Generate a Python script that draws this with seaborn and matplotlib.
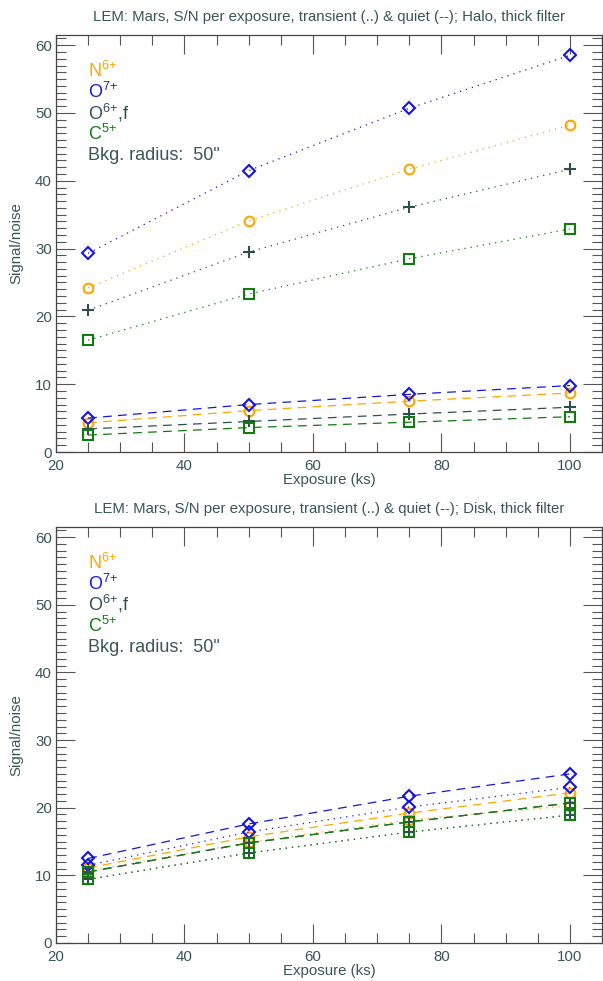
import numpy as np
import pandas as pd
import matplotlib
matplotlib.use("Agg")
import matplotlib.pyplot as plt
import matplotlib.transforms as mtrans
import seaborn as sns
from matplotlib.ticker import MultipleLocator

sns.set_style("ticks")
plt.rcParams['font.family'] = ['Liberation Sans', 'DejaVu Sans']
plt.rcParams['mathtext.fontset'] = 'custom'
plt.rcParams['mathtext.rm'] = 'Liberation Sans'
plt.rcParams['mathtext.it'] = 'Liberation Sans'

exposure = [25, 50, 75, 100]

# Halo panel
halo_O7_trans = [29.3, 41.5, 50.7, 58.5]
halo_N6_trans = [24.2, 34.1, 41.7, 48.2]
halo_O6_trans = [20.9, 29.5, 36.1, 41.7]
halo_C5_trans = [16.5, 23.3, 28.5, 32.9]
halo_O7_quiet = [5.0, 7.0, 8.5, 9.8]
halo_N6_quiet = [4.3, 6.1, 7.5, 8.7]
halo_O6_quiet = [3.4, 4.5, 5.6, 6.6]
halo_C5_quiet = [2.5, 3.6, 4.4, 5.2]

# Disk panel
disk_O7_quiet = [12.5, 17.6, 21.7, 25.0]
disk_O7_trans = [11.5, 16.4, 20.1, 23.0]
disk_N6_quiet = [11.1, 15.7, 19.2, 22.2]
disk_N6_trans = [10.6, 14.9, 18.2, 20.3]
disk_O6_quiet = [10.5, 14.8, 17.9, 20.7]
disk_O6_trans = [9.4, 13.3, 16.4, 18.9]
disk_C5_quiet = [10.5, 14.8, 17.9, 20.7]
disk_C5_trans = [9.4, 13.3, 16.4, 18.9]

titles = ["LEM: Mars, S/N per exposure, transient (..) & quiet (--); Halo, thick filter",
          "LEM: Mars, S/N per exposure, transient (..) & quiet (--); Disk, thick filter"]

C_N = "#FFA500"
C_O7 = "#1515E0"
C_O6 = "#2F4F4F"
C_C5 = "#117A11"
TXT = "#3A5555"

ions = [("N6", C_N, "o"), ("O7", C_O7, "D"), ("O6", C_O6, "+"), ("C5", C_C5, "s")]
panels = [
    {"N6": (halo_N6_trans, halo_N6_quiet), "O7": (halo_O7_trans, halo_O7_quiet),
     "O6": (halo_O6_trans, halo_O6_quiet), "C5": (halo_C5_trans, halo_C5_quiet)},
    {"N6": (disk_N6_trans, disk_N6_quiet), "O7": (disk_O7_trans, disk_O7_quiet),
     "O6": (disk_O6_trans, disk_O6_quiet), "C5": (disk_C5_trans, disk_C5_quiet)},
]

W, H = 603, 981
fig = plt.figure(figsize=(W / 100, H / 100), dpi=100)
boxes = [(56, 35, 602, 452), (56, 527, 602, 943)]

DOT = (0, (1, 4))
DASH = (0, (7, 5))
LAB = 10.8

for bi, (x0, y0, x1, y1) in enumerate(boxes):
    ax = fig.add_axes([x0 / W, 1 - y1 / H, (x1 - x0) / W, (y1 - y0) / H])
    data = panels[bi]
    for key, col, mk in ions:
        trans, quiet = data[key]
        for vals, ls in ((quiet, DASH), (trans, DOT)):
            df = pd.DataFrame({"x": exposure, "y": vals})
            kw = dict(markerfacecolor="none", markeredgecolor=col,
                      markeredgewidth=1.5, markersize=7)
            if mk == "D":
                kw["markersize"] = 6
            if mk == "+":
                kw["markersize"] = 9
            sns.lineplot(data=df, x="x", y="y", ax=ax, color=col, linestyle=ls,
                         linewidth=0.9, marker=mk, **kw)
    ax.set_xlim(20, 105)
    ax.set_ylim(0, 61.5)
    ax.xaxis.set_major_locator(MultipleLocator(20))
    ax.xaxis.set_minor_locator(MultipleLocator(5))
    ax.yaxis.set_major_locator(MultipleLocator(10))
    ax.yaxis.set_minor_locator(MultipleLocator(1))
    ax.tick_params(which="both", direction="in", top=True, right=True,
                   color="#555555", width=0.8, labelsize=LAB, labelcolor=TXT)
    ax.tick_params(which="major", length=14, pad=3)
    ax.tick_params(axis="x", which="major", pad=5)
    ax.tick_params(which="minor", length=7)
    for s in ax.spines.values():
        s.set_color("#444444")
        s.set_linewidth(0.9)
    ax.set_xlabel("Exposure (ks)", fontsize=LAB, color=TXT, labelpad=0)
    ax.set_ylabel("Signal/noise", fontsize=LAB, color=TXT, labelpad=8)
    ax.set_title(titles[bi], fontsize=10.8, color=TXT, pad=10)

    fig.canvas.draw()
    ylabels = ax.get_yticklabels()
    if ylabels:
        ylabels[0].set_transform(ylabels[0].get_transform() +
                                 mtrans.ScaledTranslation(-2 / 100, 4 / 100, fig.dpi_scale_trans))
    xlabels = ax.get_xticklabels()
    if xlabels:
        xlabels[0].set_transform(xlabels[0].get_transform() +
                                 mtrans.ScaledTranslation(4 / 100, 0, fig.dpi_scale_trans))

    fs = 13
    ax.text(25.0, 55.3, r"N$^{6{+}}$", color=C_N, fontsize=fs)
    ax.text(25.0, 52.2, r"O$^{7{+}}$", color=C_O7, fontsize=fs)
    ax.text(25.0, 49.1, r"O$^{6{+}}$,f", color=C_O6, fontsize=fs)
    ax.text(25.0, 46.0, r"C$^{5{+}}$", color=C_C5, fontsize=fs)
    ax.text(25.0, 43.0, 'Bkg. radius:  50"', color=TXT, fontsize=fs)

fig.savefig("out.png", dpi=100)
